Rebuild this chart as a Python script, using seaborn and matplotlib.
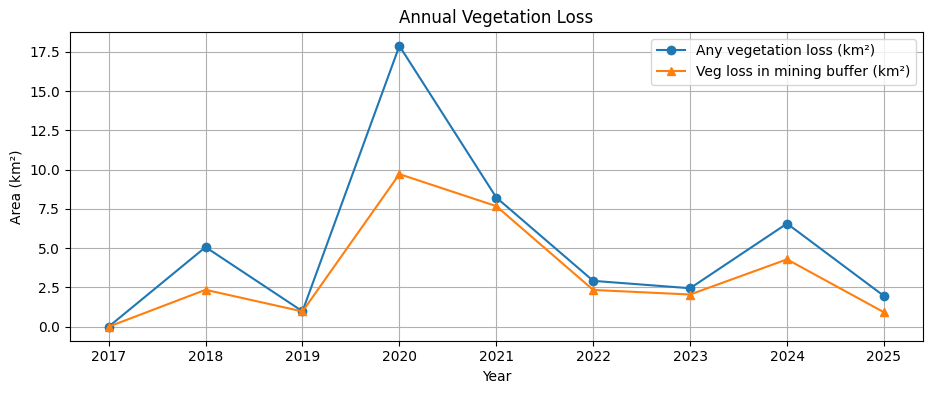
import matplotlib
matplotlib.use("Agg")
import matplotlib.pyplot as plt
import seaborn as sns

# Annual vegetation loss values
years = [2017, 2018, 2019, 2020, 2021, 2022, 2023, 2024, 2025]
any_loss = [0.0, 5.07, 0.98, 17.89, 8.23, 2.92, 2.45, 6.57, 1.96]
buffer_loss = [0.0, 2.35, 0.97, 9.72, 7.68, 2.34, 2.05, 4.29, 0.92]

blue = "#1f77b4"
orange = "#ff7f0e"

f, ax = plt.subplots(figsize=(9.32, 3.93), dpi=100)
f.subplots_adjust(left=0.075, right=0.990, top=0.919, bottom=0.133)

sns.lineplot(x=years, y=any_loss, marker="o", color=blue, markersize=6,
             markeredgecolor=blue, markeredgewidth=1, linewidth=1.5,
             label="Any vegetation loss (km²)", ax=ax)
sns.lineplot(x=years, y=buffer_loss, marker="^", color=orange, markersize=6,
             markeredgecolor=orange, markeredgewidth=1, linewidth=1.5,
             label="Veg loss in mining buffer (km²)", ax=ax)

ax.set_xticks(years)
ax.set_title("Annual Vegetation Loss")
ax.set_xlabel("Year")
ax.set_ylabel("Area (km²)")
ax.grid(True)
ax.legend(loc="upper right")

f.savefig("out.png", dpi=100)
